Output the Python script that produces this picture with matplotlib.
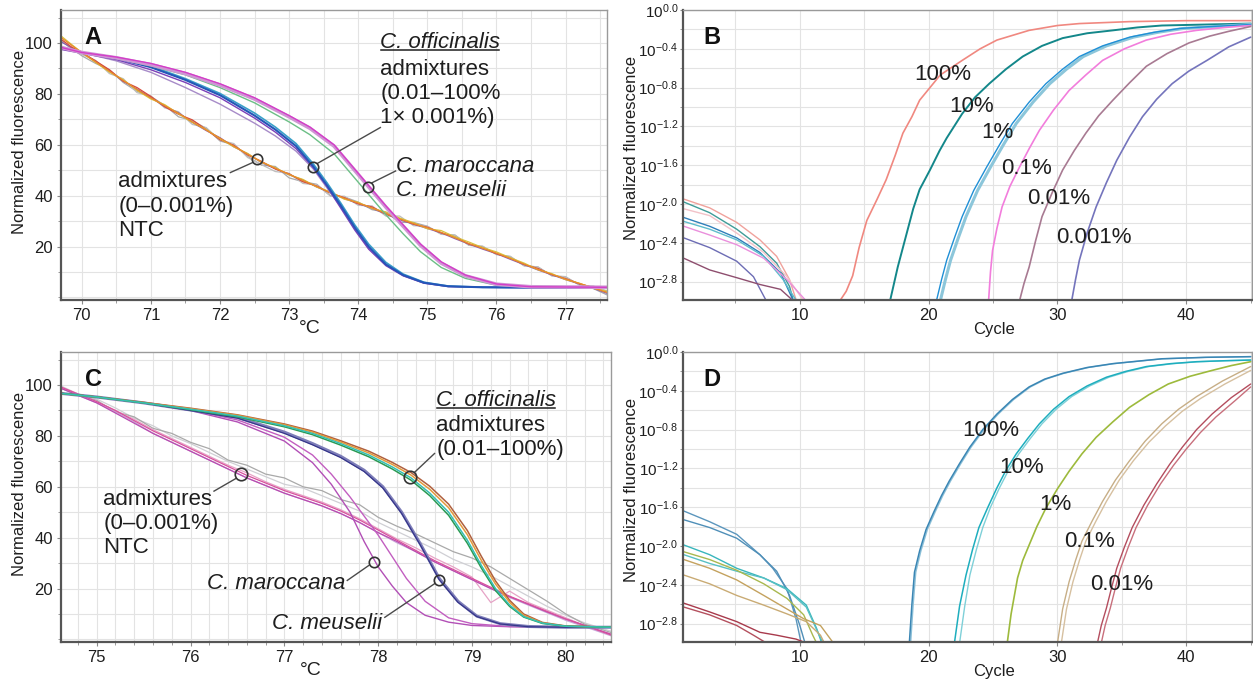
"""Melting curves (A, C) and amplification curves (B, D) - four-panel figure.

Writes ``out.png``.
"""

import matplotlib

matplotlib.use("Agg")
import matplotlib.pyplot as plt
import numpy as np
from matplotlib.lines import Line2D
from matplotlib.ticker import FixedLocator, MultipleLocator, NullFormatter

plt.rcParams["font.family"] = ["Liberation Sans", "DejaVu Sans"]
plt.rcParams["mathtext.default"] = "regular"

# ---------------------------------------------------------------- panel A
A_T_OFF = [69.7, 70.0, 70.5, 71.0, 71.5, 72.0, 72.5, 72.8, 73.1, 73.35, 73.55,
           73.75, 73.95, 74.15, 74.4, 74.65, 74.95, 75.3, 75.8, 76.5, 77.6]
A_OFF_1 = [98.3, 96.3, 94.0, 90.5, 85.5, 79.5, 71.5, 66.0, 59.5, 51.5, 44.0,
           36.0, 27.5, 20.0, 13.0, 8.8, 5.8, 4.4, 4.0, 3.9, 3.9]
A_OFF_2 = [97.5, 96.0, 93.5, 89.5, 84.5, 78.5, 70.5, 65.0, 58.5, 51.0, 43.5,
           35.0, 26.5, 19.0, 12.5, 8.5, 5.6, 4.3, 4.0, 3.9, 3.9]
A_OFF_3 = [98.0, 96.3, 93.0, 88.5, 82.5, 76.0, 68.5, 63.5, 57.5, 50.5, 43.0,
           35.5, 27.0, 19.5, 12.8, 8.6, 5.7, 4.3, 4.0, 3.9, 3.9]
A_OFF_4 = [98.3, 96.3, 94.2, 91.0, 86.0, 80.2, 72.5, 67.0, 60.5, 52.5, 45.0,
           37.0, 28.5, 21.0, 13.8, 9.2, 6.0, 4.5, 4.0, 3.9, 3.9]

A_T_MAR = [69.7, 70.0, 70.5, 71.0, 71.5, 72.0, 72.5, 73.0, 73.3, 73.65, 73.9,
           74.15, 74.4, 74.65, 74.9, 75.2, 75.55, 76.0, 76.5, 77.6]
A_MAR_1 = [98.3, 96.3, 94.2, 91.5, 88.0, 83.5, 78.0, 71.0, 66.5, 59.5, 51.5,
           43.5, 35.5, 28.0, 20.5, 13.5, 8.5, 5.2, 4.2, 4.0]
A_MAR_2 = [98.3, 96.3, 94.5, 92.0, 88.5, 84.0, 78.5, 71.5, 67.0, 60.0, 52.0,
           44.0, 36.0, 28.5, 21.0, 14.0, 8.8, 5.3, 4.2, 4.0]
A_MAR_3 = [98.3, 96.3, 94.0, 91.0, 87.5, 82.5, 76.5, 69.0, 64.0, 56.5, 48.5,
           40.5, 32.5, 25.0, 18.0, 11.8, 7.5, 4.8, 4.1, 4.0]

A_T_LOW = [69.7, 69.85, 70.0, 70.2, 70.4, 70.6, 70.8, 71.0, 71.2, 71.4, 71.6,
           71.8, 72.0, 72.2, 72.4, 72.6, 72.8, 73.0, 73.2, 73.4, 73.6, 73.8,
           74.0, 74.2, 74.4, 74.6, 74.8, 75.0, 75.2, 75.4, 75.6, 75.8, 76.0,
           76.2, 76.4, 76.6, 76.8, 77.0, 77.2, 77.4, 77.6]
A_LOW_1 = [102.2, 99.2, 96.3, 92.6, 88.9, 85.3, 81.7, 78.4, 75.4, 72.4, 69.0,
           65.8, 62.6, 59.5, 56.3, 53.3, 50.8, 48.4, 46.0, 43.6, 41.1, 39.0,
           37.1, 35.2, 33.0, 30.8, 29.0, 27.4, 25.6, 23.4, 21.2, 19.3, 17.4,
           15.3, 13.1, 11.0, 9.1, 7.2, 5.5, 3.8, 1.9]
A_LOW_2 = [101.0, 98.0, 95.0, 92.0, 89.5, 84.5, 81.0, 79.0, 75.5, 71.0, 69.5,
           66.5, 61.5, 60.0, 55.5, 52.0, 51.5, 47.0, 45.5, 44.5, 40.0, 39.5,
           37.5, 34.5, 33.5, 29.5, 29.5, 28.0, 25.0, 24.5, 20.5, 20.0, 17.0,
           16.0, 12.5, 12.0, 8.5, 8.0, 5.0, 3.5, 1.0]
A_LOW_3 = [101.5, 98.5, 96.3, 93.0, 89.5, 85.0, 82.5, 79.0, 75.0, 72.0, 69.8,
           66.0, 62.0, 59.8, 56.0, 53.5, 50.5, 48.6, 45.5, 43.8, 41.0, 39.2,
           36.8, 35.6, 32.8, 31.0, 28.8, 27.6, 25.4, 23.8, 21.0, 19.6, 17.2,
           15.5, 13.0, 11.4, 9.0, 7.4, 5.4, 3.9, 2.1]
A_LOW_4 = [102.8, 99.5, 96.3, 92.4, 88.6, 85.6, 81.4, 78.0, 75.8, 72.2, 68.8,
           66.0, 62.4, 59.2, 56.6, 53.1, 51.0, 48.2, 46.4, 43.4, 41.5, 38.6,
           37.4, 35.0, 33.6, 31.2, 29.4, 27.0, 26.3, 23.8, 21.8, 19.6, 17.9,
           15.6, 13.5, 10.9, 9.4, 7.0, 5.6, 3.6, 2.4]
A_LOW_5 = [100.5, 98.2, 96.3, 92.8, 89.2, 85.0, 81.9, 78.6, 75.0, 72.6, 68.8,
           65.6, 62.8, 59.2, 56.5, 53.0, 50.6, 48.2, 46.2, 43.4, 41.2, 38.8,
           36.9, 35.0, 32.8, 30.5, 28.8, 27.1, 25.4, 23.1, 21.0, 19.0, 17.2,
           15.0, 12.9, 10.8, 8.9, 7.0, 5.3, 3.6, 1.6]
A_LOW_6 = [101.5, 97.5, 95.5, 93.2, 88.0, 86.0, 80.5, 79.2, 74.5, 73.0, 68.0,
           66.8, 61.8, 60.5, 55.0, 52.2, 49.5, 48.8, 44.8, 44.2, 39.8, 39.8,
           36.2, 36.0, 32.0, 32.0, 28.2, 28.0, 24.8, 24.5, 20.6, 20.2, 16.8,
           16.2, 12.4, 12.0, 8.6, 8.2, 4.8, 4.5, 2.6]

# annotation anchors (circle, leader start, leader end) for panel A
A_CIRCLES_X = [72.53, 73.35, 74.14]
A_CIRCLES_Y = [54.3, 51.4, 43.6]
A_LEAD_X = [(72.47, 72.15), (73.41, 74.32), (74.20, 74.54)]
A_LEAD_Y = [(53.0, 49.1), (52.7, 66.8), (45.1, 49.7)]

# ---------------------------------------------------------------- panel C
C_T_OFF = [74.6, 75.0, 75.5, 76.0, 76.5, 77.0, 77.3, 77.6, 77.9, 78.15, 78.35,
           78.55, 78.75, 78.95, 79.1, 79.25, 79.4, 79.55, 79.75, 80.0, 80.5]
C_OFF_1 = [96.8, 95.3, 93.0, 90.5, 87.8, 84.0, 81.0, 77.0, 72.5, 67.8, 63.5,
           57.5, 50.0, 39.0, 29.0, 20.0, 13.5, 9.0, 6.4, 5.2, 4.8]
C_OFF_2 = [96.8, 95.3, 93.0, 90.3, 87.5, 83.6, 80.5, 76.4, 71.8, 67.0, 62.6,
           56.5, 48.8, 37.8, 28.0, 19.2, 13.0, 8.8, 6.3, 5.2, 4.8]
C_OFF_3 = [96.8, 95.3, 93.1, 90.7, 88.1, 84.4, 81.5, 77.6, 73.3, 68.8, 64.6,
           59.0, 51.8, 41.2, 31.0, 21.8, 14.6, 9.5, 6.5, 5.2, 4.8]
C_OFF_4 = [96.8, 95.3, 93.2, 90.9, 88.3, 84.7, 81.9, 78.1, 74.0, 69.6, 65.6,
           60.2, 53.2, 42.8, 32.6, 23.0, 15.4, 10.0, 6.7, 5.3, 4.8]

C_T_MEU = [74.6, 75.0, 75.5, 76.0, 76.5, 77.0, 77.3, 77.6, 77.85, 78.05, 78.25,
           78.45, 78.65, 78.85, 79.05, 79.3, 79.6, 80.0, 80.5]
C_MEU_1 = [96.8, 95.3, 93.0, 90.2, 87.3, 81.5, 77.0, 72.0, 66.5, 60.0, 50.0,
           37.5, 24.0, 15.0, 9.2, 6.2, 5.1, 4.8, 4.8]
C_MEU_2 = [96.8, 95.3, 93.0, 90.0, 87.0, 81.0, 76.5, 71.5, 66.0, 59.5, 49.5,
           37.0, 23.5, 14.6, 9.0, 6.1, 5.0, 4.8, 4.8]

C_T_MAR = [74.6, 75.0, 75.5, 76.0, 76.5, 77.0, 77.3, 77.5, 77.7, 77.85, 78.0,
           78.15, 78.3, 78.5, 78.75, 79.0, 79.4, 80.0]
C_MAR_1 = [96.8, 95.3, 93.0, 90.0, 85.5, 78.0, 69.5, 61.0, 50.0, 38.5, 28.5,
           21.0, 14.5, 9.5, 6.8, 5.5, 5.0, 4.8]
C_MAR_2 = [96.8, 95.3, 93.0, 90.2, 86.3, 79.5, 72.5, 65.0, 56.0, 48.5, 41.0,
           32.5, 24.0, 15.0, 8.5, 6.2, 5.1, 4.8]

C_T_LOW = [74.6, 74.8, 75.0, 75.2, 75.4, 75.6, 75.8, 76.0, 76.2, 76.4, 76.6,
           76.8, 77.0, 77.2, 77.4, 77.6, 77.8, 78.0, 78.2, 78.4, 78.6, 78.8,
           79.0, 79.2, 79.4, 79.6, 79.8, 80.0, 80.2, 80.5]
C_LOW_1 = [99.5, 96.5, 93.5, 90.0, 86.0, 82.0, 78.5, 75.0, 71.5, 68.0, 64.5,
           61.5, 58.5, 56.0, 53.5, 50.5, 47.0, 43.0, 39.0, 35.0, 31.0, 27.5,
           24.0, 20.5, 17.0, 14.0, 11.0, 8.0, 5.5, 1.5]
C_LOW_2 = [99.0, 96.0, 94.0, 89.5, 87.5, 83.0, 81.0, 77.5, 75.0, 70.5, 68.5,
           65.0, 63.5, 60.0, 58.5, 55.0, 53.0, 48.0, 44.5, 41.5, 38.0, 34.5,
           32.0, 28.5, 24.0, 19.5, 15.0, 10.0, 6.0, 2.5]
C_LOW_3 = [99.5, 96.0, 93.0, 89.5, 85.5, 81.0, 77.5, 74.0, 70.5, 67.0, 63.5,
           60.5, 57.5, 55.0, 52.5, 49.5, 46.0, 42.0, 38.0, 34.5, 30.5, 27.0,
           23.5, 20.0, 16.5, 13.5, 10.5, 7.5, 5.0, 1.2]
C_LOW_4 = [99.0, 96.0, 93.0, 89.0, 85.0, 81.0, 77.5, 74.0, 70.5, 67.0, 63.5,
           60.5, 57.5, 55.0, 52.5, 49.5, 46.0, 42.0, 38.5, 34.5, 30.5, 27.0,
           23.5, 20.0, 16.8, 13.8, 10.8, 8.0, 5.5, 1.8]
C_LOW_5 = [99.5, 96.5, 93.5, 90.0, 86.5, 82.5, 79.0, 75.5, 72.0, 68.5, 65.5,
           62.0, 59.0, 56.5, 54.0, 51.0, 47.5, 43.5, 39.5, 36.0, 32.0, 28.5,
           24.5, 14.5, 19.0, 14.5, 11.5, 8.5, 5.5, 2.0]
C_LOW_6 = [100.0, 96.5, 94.5, 91.0, 87.0, 84.0, 80.0, 77.0, 73.5, 70.0, 67.0,
           64.0, 61.0, 59.5, 56.5, 53.5, 50.5, 46.0, 42.5, 39.0, 35.5, 31.5,
           28.5, 25.0, 21.0, 17.0, 13.0, 9.5, 6.5, 3.0]

C_CIRCLES_X = [76.54, 78.34, 77.95, 78.65]
C_CIRCLES_Y = [64.9, 64.0, 30.4, 23.4]
C_CIRCLE_SIZE = [9, 9, 7.5, 7.5]
C_LEAD_X = [(76.48, 76.25), (78.39, 78.60), (77.90, 77.67), (78.60, 78.07)]
C_LEAD_Y = [(63.2, 58.3), (65.8, 73.1), (29.1, 23.2), (21.9, 8.7)]

# ---------------------------------------------------------------- panel B
# cycle numbers and log10 of normalized fluorescence
B_100_C = [13.1, 13.6, 14.1, 14.6, 15.2, 16.0, 16.7, 17.4, 18.0, 18.7, 19.3,
           20.1, 20.9, 22.6, 24.0, 25.3, 27.8, 30.0, 31.7, 35.6, 40.0, 45.0]
B_100_L = [-3.0, -2.90, -2.74, -2.45, -2.17, -1.95, -1.75, -1.50, -1.27, -1.10,
           -0.93, -0.80, -0.67, -0.52, -0.40, -0.31, -0.21, -0.16, -0.14, -0.12,
           -0.11, -0.11]
B_10_C = [17.0, 17.6, 18.3, 18.8, 19.3, 20.1, 20.85, 21.4, 22.6, 23.6, 24.7,
          26.0, 27.3, 28.8, 30.4, 32.3, 34.3, 36.2, 38.1, 41.5, 45.0]
B_10_L = [-3.0, -2.65, -2.30, -2.05, -1.85, -1.65, -1.45, -1.32, -1.07, -0.90,
          -0.76, -0.61, -0.48, -0.37, -0.29, -0.24, -0.21, -0.18, -0.16, -0.15,
          -0.14]
B_1_C = [20.6, 21.0, 21.4, 22.0, 22.6, 23.5, 24.5, 25.5, 26.5, 27.8, 29.1,
         30.4, 31.7, 33.5, 35.6, 37.5, 39.5, 42.0, 45.0]
B_1B_C = [20.9, 21.3, 21.7, 22.3, 22.9, 23.8, 24.8, 25.8, 26.8, 28.1, 29.4,
          30.7, 32.0, 33.8, 35.9, 37.8, 39.8, 42.3, 45.0]
B_1_L = [-3.0, -2.78, -2.58, -2.35, -2.13, -1.86, -1.62, -1.39, -1.17, -0.95,
         -0.76, -0.61, -0.48, -0.37, -0.28, -0.23, -0.19, -0.17, -0.15]
B_01_C = [24.65, 24.8, 24.96, 25.3, 25.7, 26.3, 27.05, 27.8, 28.6, 29.7, 30.9,
          32.2, 33.5, 35.2, 36.9, 38.8, 40.8, 43.0, 45.0]
B_01_L = [-3.0, -2.70, -2.48, -2.25, -2.03, -1.82, -1.62, -1.43, -1.24, -1.03,
          -0.83, -0.67, -0.52, -0.40, -0.31, -0.25, -0.21, -0.18, -0.16]
B_001_C = [27.05, 27.4, 27.8, 28.3, 28.8, 29.6, 30.4, 31.3, 32.2, 33.2, 34.3,
           35.6, 36.9, 38.5, 40.2, 41.8, 43.3, 45.0]
B_001_L = [-3.0, -2.82, -2.65, -2.38, -2.13, -1.88, -1.65, -1.45, -1.27, -1.09,
           -0.93, -0.75, -0.58, -0.45, -0.34, -0.27, -0.22, -0.17]
B_0001_C = [31.1, 31.4, 31.7, 32.3, 33.0, 33.8, 34.6, 35.6, 36.6, 37.7, 38.9,
            40.2, 41.6, 43.3, 45.0]
B_0001_L = [-3.0, -2.78, -2.58, -2.30, -2.03, -1.78, -1.55, -1.31, -1.10, -0.92,
            -0.76, -0.63, -0.52, -0.38, -0.28]

# early-cycle background curves in B
B_BG1_C = [1.0, 3.0, 5.1, 6.9, 8.2, 9.2, 9.74]
B_BG1_L = [-1.95, -2.04, -2.19, -2.37, -2.54, -2.78, -3.0]
B_BG2_C = [1.0, 3.0, 5.1, 6.9, 8.2, 9.2, 9.5]
B_BG2_L = [-1.98, -2.09, -2.26, -2.44, -2.61, -2.85, -3.0]
B_BG3_C = [1.0, 3.0, 5.1, 7.2, 9.0, 10.3]
B_BG3_L = [-2.05, -2.12, -2.30, -2.50, -2.75, -3.0]
B_BG4_C = [1.0, 3.0, 5.1, 6.9, 8.5, 9.5]
B_BG4_L = [-2.14, -2.23, -2.35, -2.50, -2.71, -3.0]
B_BG5_C = [1.0, 3.0, 5.1, 7.2, 8.7, 9.74]
B_BG5_L = [-2.18, -2.26, -2.37, -2.54, -2.78, -3.0]
B_BG6_C = [1.0, 3.0, 5.1, 7.2, 9.0, 10.5]
B_BG6_L = [-2.23, -2.32, -2.42, -2.56, -2.78, -3.0]
B_BG7_C = [1.0, 3.0, 5.1, 6.4, 7.4]
B_BG7_L = [-2.35, -2.45, -2.59, -2.75, -3.0]
B_BG8_C = [1.0, 3.0, 5.1, 6.9, 8.5, 9.5]
B_BG8_L = [-2.56, -2.68, -2.76, -2.83, -2.88, -3.0]

B_LABELS = ["100%", "10%", "1%", "0.1%", "0.01%", "0.001%"]
B_LABEL_C = [21.1, 23.3, 25.35, 27.6, 30.1, 32.8]
B_LABEL_L = [-0.66, -0.99, -1.26, -1.63, -1.94, -2.35]

# ---------------------------------------------------------------- panel D
D_100_C = [18.5, 18.7, 18.9, 19.3, 19.8, 20.4, 21.0, 21.6, 22.4, 23.2, 24.2,
           25.3, 26.5, 27.8, 29.0, 30.4, 32.3, 34.3, 38.1, 41.5, 45.0]
D_100B_C = [18.6, 18.8, 19.0, 19.4, 19.9, 20.5, 21.1, 21.7, 22.5, 23.3, 24.3,
            25.4, 26.6, 27.9, 29.1, 30.5, 32.4, 34.4, 38.2, 41.6, 45.0]
D_100_L = [-3.0, -2.60, -2.27, -2.05, -1.83, -1.65, -1.48, -1.33, -1.15, -0.98,
           -0.80, -0.64, -0.49, -0.36, -0.28, -0.22, -0.16, -0.12, -0.07, -0.055,
           -0.048]
D_10_C = [22.0, 22.4, 22.9, 23.4, 23.9, 24.6, 25.3, 26.0, 26.8, 27.7, 28.6,
          29.7, 30.9, 32.3, 33.8, 35.3, 36.9, 38.8, 40.8, 43.0, 45.0]
D_10B_C = [22.4, 22.8, 23.2, 23.7, 24.2, 24.8, 25.5, 26.2, 27.0, 27.9, 28.8,
           29.9, 31.1, 32.5, 34.0, 35.5, 37.1, 39.0, 41.0, 43.1, 45.0]
D_10_L = [-3.0, -2.62, -2.30, -2.04, -1.81, -1.60, -1.40, -1.22, -1.05, -0.89,
          -0.74, -0.59, -0.46, -0.35, -0.26, -0.20, -0.15, -0.12, -0.10, -0.09,
          -0.083]
D_1_C = [26.1, 26.4, 26.9, 27.3, 27.8, 28.4, 29.1, 30.0, 30.9, 31.9, 33.0,
         34.3, 35.6, 37.1, 38.6, 40.3, 42.0, 43.5, 45.0]
D_1_L = [-3.0, -2.70, -2.33, -2.15, -1.99, -1.80, -1.61, -1.41, -1.23, -1.05,
         -0.88, -0.72, -0.57, -0.44, -0.33, -0.25, -0.19, -0.14, -0.10]
D_01_C = [30.0, 30.4, 30.9, 31.4, 31.9, 32.7, 33.5, 34.5, 35.6, 36.8, 38.1,
          39.4, 40.8, 42.8, 45.0]
D_01_L = [-3.0, -2.65, -2.37, -2.15, -1.95, -1.74, -1.54, -1.32, -1.12, -0.92,
          -0.74, -0.59, -0.46, -0.30, -0.15]
D_01B_C = [30.3, 30.7, 31.2, 31.7, 32.2, 33.0, 33.8, 34.8, 35.9, 37.1, 38.4,
           39.7, 41.1, 43.0, 45.0]
D_01B_L = [-3.0, -2.65, -2.37, -2.15, -1.95, -1.74, -1.54, -1.32, -1.12, -0.93,
           -0.76, -0.61, -0.48, -0.33, -0.19]
D_001_C = [33.1, 33.4, 33.8, 34.2, 34.6, 35.2, 35.8, 36.7, 37.7, 38.7, 39.7,
           40.8, 42.0, 43.5, 45.0]
D_001B_C = [33.4, 33.7, 34.1, 34.5, 34.9, 35.5, 36.1, 37.0, 38.0, 39.0, 40.0,
            41.1, 42.3, 43.8, 45.0]
D_001_L = [-3.0, -2.82, -2.64, -2.43, -2.23, -2.01, -1.81, -1.58, -1.36, -1.16,
           -0.98, -0.80, -0.64, -0.47, -0.33]
D_001B_L = [-3.0, -2.82, -2.64, -2.43, -2.23, -2.01, -1.81, -1.58, -1.36, -1.17,
            -1.00, -0.83, -0.67, -0.50, -0.36]

D_BG1_C = [1.0, 3.0, 5.1, 6.9, 7.9, 9.0, 9.7, 10.1]
D_BG1_L = [-1.64, -1.75, -1.88, -2.09, -2.23, -2.44, -2.75, -3.0]
D_BG2_C = [1.0, 3.0, 5.1, 6.9, 8.2, 9.2, 10.0, 10.4]
D_BG2_L = [-1.73, -1.81, -1.92, -2.09, -2.26, -2.51, -2.82, -3.0]
D_BG3_C = [1.0, 3.0, 5.1, 7.2, 9.0, 10.5, 11.3, 11.7]
D_BG3_L = [-1.99, -2.09, -2.23, -2.33, -2.44, -2.61, -2.85, -3.0]
D_BG4_C = [1.0, 3.0, 5.1, 7.2, 9.0, 10.5, 11.4, 11.8]
D_BG4_L = [-2.09, -2.18, -2.26, -2.33, -2.45, -2.63, -2.89, -3.0]
D_BG5_C = [1.0, 3.0, 5.1, 7.2, 9.0, 10.3, 11.0, 11.3]
D_BG5_L = [-2.06, -2.14, -2.25, -2.39, -2.54, -2.71, -2.92, -3.0]
D_BG6_C = [1.0, 3.0, 5.1, 7.2, 9.0, 10.3, 11.6, 12.6]
D_BG6_L = [-2.14, -2.23, -2.35, -2.51, -2.65, -2.75, -2.82, -3.0]
D_BG7_C = [1.0, 3.0, 5.1, 7.2, 9.0, 10.5, 11.6, 11.9]
D_BG7_L = [-2.30, -2.39, -2.51, -2.61, -2.70, -2.78, -2.92, -3.0]
D_BG8_C = [1.0, 3.0, 5.1, 6.9, 8.2, 9.7, 10.5]
D_BG8_L = [-2.59, -2.68, -2.78, -2.89, -2.92, -2.96, -3.0]
D_BG9_C = [1.0, 3.0, 5.1, 6.4, 7.4]
D_BG9_L = [-2.63, -2.71, -2.82, -2.92, -3.0]

D_LABELS = ["100%", "10%", "1%", "0.1%", "0.01%"]
D_LABEL_C = [24.8, 27.2, 29.8, 32.5, 35.0]
D_LABEL_L = [-0.81, -1.19, -1.57, -1.95, -2.40]

LOG_TICKS = [0.0, -0.4, -0.8, -1.2, -1.6, -2.0, -2.4, -2.8]
LOG_MINOR = [-0.2, -0.6, -1.0, -1.4, -1.8, -2.2, -2.6]

TXT = "#1e1e1e"
FS = 16


def style(ax):
    for s in ("top", "right"):
        ax.spines[s].set_color("#9a9a9a")
        ax.spines[s].set_linewidth(1.0)
    for s in ("left", "bottom"):
        ax.spines[s].set_color("#555555")
        ax.spines[s].set_linewidth(1.6)
    ax.grid(which="both", color="#e3e3e3", lw=0.8)
    ax.set_axisbelow(True)
    ax.tick_params(which="both", direction="out", color="#8a8a8a",
                   labelsize=12, labelcolor=TXT)
    ax.tick_params(which="major", length=3, pad=3)
    ax.tick_params(which="minor", length=2)


def melt_axes(ax, xlim, minor):
    style(ax)
    ax.set_xlim(*xlim)
    ax.set_ylim(-1.0, 113.0)
    ax.yaxis.set_major_locator(FixedLocator([20, 40, 60, 80, 100]))
    ax.yaxis.set_minor_locator(MultipleLocator(10))
    ax.xaxis.set_major_locator(MultipleLocator(1))
    ax.xaxis.set_minor_locator(MultipleLocator(minor))
    ax.set_ylabel("Normalized fluorescence", fontsize=12, color=TXT)
    ax.yaxis.set_label_coords(-0.062, 0.545)
    ax.set_xlabel("°C", fontsize=14, color=TXT)
    ax.xaxis.set_label_coords(0.455, -0.068)


def amp_axes(ax):
    style(ax)
    ax.set_yscale("log")
    ax.set_xlim(0.93, 45.1)
    ax.set_ylim(10 ** -2.99, 1.0)
    ax.xaxis.set_major_locator(FixedLocator([10, 20, 30, 40]))
    ax.xaxis.set_minor_locator(MultipleLocator(5))
    ax.yaxis.set_major_locator(FixedLocator(np.power(10.0, LOG_TICKS)))
    ax.yaxis.set_minor_locator(FixedLocator(np.power(10.0, LOG_MINOR)))
    ax.yaxis.set_minor_formatter(NullFormatter())
    ax.set_yticklabels([r"$10^{%.1f}$" % t if t != 0 else r"$10^{0.0}$"
                        for t in LOG_TICKS])
    ax.tick_params(axis="y", which="major", labelsize=11, length=2, pad=1.5)
    ax.set_ylabel("Normalized fluorescence", fontsize=12, color=TXT)
    ax.yaxis.set_label_coords(-0.078, 0.524)
    ax.set_xlabel("Cycle", fontsize=12, color=TXT)
    ax.xaxis.set_label_coords(0.546, -0.075)


def logline(ax, c, l, color, lw=1.0):
    ax.plot(c, np.power(10.0, l), color=color, lw=lw, solid_capstyle="round")


def letter(ax, s):
    ax.text(0.059 if s in "AC" else 0.051, 0.905, s, transform=ax.transAxes,
            fontsize=17, fontweight="bold", color="#111111",
            ha="center", va="center")


def leaders(ax, cx, cy, lx, ly, sizes):
    for (x0, x1), (y0, y1) in zip(lx, ly):
        ax.plot([x0, x1], [y0, y1], color="#4a4a4a", lw=1.0, zorder=6)
    for x, y, s in zip(cx, cy, sizes):
        ax.plot(x, y, "o", ms=s, mfc="none", mec="#333333", mew=1.2, zorder=7)


fig = plt.figure(figsize=(12.53, 6.84), dpi=100)
ax_a = fig.add_axes([0.0487, 0.5614, 0.4358, 0.424])
ax_b = fig.add_axes([0.5451, 0.5614, 0.4541, 0.424])
ax_c = fig.add_axes([0.0487, 0.0614, 0.4389, 0.424])
ax_d = fig.add_axes([0.5451, 0.0614, 0.4541, 0.424])

# ---- A
melt_axes(ax_a, (69.7, 77.6), 0.5)
for ys, col in [(A_LOW_2, "#a8a8a8"), (A_LOW_6, "#bdbdbd"), (A_LOW_5, "#8a5fb0"),
                (A_LOW_3, "#d84a3a"), (A_LOW_4, "#d9c23c"), (A_LOW_1, "#e88a2c")]:
    ax_a.plot(A_T_LOW, ys, color=col, lw=0.9)
for ys, col, lw in [(A_OFF_3, "#a78bc8", 1.0), (A_OFF_2, "#7a3fb8", 1.0),
                    (A_OFF_4, "#3aa0c8", 1.2), (A_OFF_1, "#2456b8", 1.5)]:
    ax_a.plot(A_T_OFF, ys, color=col, lw=lw)
for ys, col, lw in [(A_MAR_3, "#6cbf86", 1.0), (A_MAR_1, "#cf95d4", 2.6),
                    (A_MAR_2, "#d43cc8", 1.0)]:
    ax_a.plot(A_T_MAR, ys, color=col, lw=lw)
leaders(ax_a, A_CIRCLES_X, A_CIRCLES_Y, A_LEAD_X, A_LEAD_Y, [7.5, 7.5, 7.5])
ax_a.text(70.53, 35.9, "admixtures\n(0–0.001%)\nNTC", fontsize=FS, color=TXT,
          va="center", ha="left")
off_a = ax_a.text(74.32, 100.3, "C. officinalis", fontsize=FS, color=TXT,
                  style="italic", va="center", ha="left")
ax_a.text(74.32, 80.2, "admixtures\n(0.01–100%\n1× 0.001%)", fontsize=FS,
          color=TXT, va="center", ha="left")
ax_a.text(74.54, 46.8, "C. maroccana\nC. meuselii", fontsize=FS, color=TXT,
          style="italic", va="center", ha="left")
letter(ax_a, "A")

# ---- C
melt_axes(ax_c, (74.62, 80.48), 0.2)
for ys, col in [(C_LOW_6, "#cfcfd4"), (C_LOW_2, "#a9a9a9"), (C_LOW_3, "#c9a6d8"),
                (C_LOW_5, "#e6a3c6"), (C_LOW_4, "#b94ab0"), (C_LOW_1, "#d8509c")]:
    ax_c.plot(C_T_LOW, ys, color=col, lw=0.9)
for ys, col in [(C_MAR_1, "#b24fb6"), (C_MAR_2, "#c25ec0")]:
    ax_c.plot(C_T_MAR, ys, color=col, lw=1.0)
ax_c.plot(C_T_MEU, C_MEU_1, color="#7d7db8", lw=2.2)
ax_c.plot(C_T_MEU, C_MEU_2, color="#35358a", lw=0.9)
for ys, col in [(C_OFF_4, "#b0603e"), (C_OFF_3, "#e39a3c"), (C_OFF_2, "#2a9a52"),
                (C_OFF_1, "#36bfb3")]:
    ax_c.plot(C_T_OFF, ys, color=col, lw=1.1)
leaders(ax_c, C_CIRCLES_X, C_CIRCLES_Y, C_LEAD_X, C_LEAD_Y, C_CIRCLE_SIZE)
ax_c.text(75.07, 45.5, "admixtures\n(0–0.001%)\nNTC", fontsize=FS, color=TXT,
          va="center", ha="left")
off_c = ax_c.text(78.62, 94.1, "C. officinalis", fontsize=FS, color=TXT,
                  style="italic", va="center", ha="left")
ax_c.text(78.62, 79.3, "admixtures\n(0.01–100%)", fontsize=FS, color=TXT,
          va="center", ha="left")
ax_c.text(77.65, 21.9, "C. maroccana", fontsize=FS, color=TXT, style="italic",
          va="center", ha="right")
ax_c.text(78.04, 6.1, "C. meuselii", fontsize=FS, color=TXT, style="italic",
          va="center", ha="right")
letter(ax_c, "C")

# ---- B
amp_axes(ax_b)
for c, l, col in [(B_BG1_C, B_BG1_L, "#f0a29c"), (B_BG2_C, B_BG2_L, "#3f9c98"),
                  (B_BG3_C, B_BG3_L, "#f2c2c8"), (B_BG4_C, B_BG4_L, "#2f7fba"),
                  (B_BG5_C, B_BG5_L, "#5fbccc"), (B_BG6_C, B_BG6_L, "#ea8fdc"),
                  (B_BG7_C, B_BG7_L, "#6c6cb4"), (B_BG8_C, B_BG8_L, "#8e4e6e")]:
    logline(ax_b, c, l, col)
logline(ax_b, B_100_C, B_100_L, "#f08880", 1.2)
logline(ax_b, B_10_C, B_10_L, "#13878a", 1.4)
logline(ax_b, B_1B_C, B_1_L, "#8cc6da", 2.2)
logline(ax_b, B_1_C, B_1_L, "#1f8fd6", 1.0)
logline(ax_b, B_01_C, B_01_L, "#f27ddc", 1.2)
logline(ax_b, B_001_C, B_001_L, "#a87a92", 1.2)
logline(ax_b, B_0001_C, B_0001_L, "#7474bc", 1.2)
for s, c, l in zip(B_LABELS, B_LABEL_C, B_LABEL_L):
    ax_b.text(c, 10 ** l, s, fontsize=FS, color=TXT, ha="center", va="center")
letter(ax_b, "B")

# ---- D
amp_axes(ax_d)
for c, l, col in [(D_BG1_C, D_BG1_L, "#5b96bd"), (D_BG2_C, D_BG2_L, "#4f8fb8"),
                  (D_BG3_C, D_BG3_L, "#38b6bc"), (D_BG4_C, D_BG4_L, "#57c0c4"),
                  (D_BG5_C, D_BG5_L, "#a9b84e"), (D_BG6_C, D_BG6_L, "#c4a25e"),
                  (D_BG7_C, D_BG7_L, "#c9ab74"), (D_BG8_C, D_BG8_L, "#a83a4c"),
                  (D_BG9_C, D_BG9_L, "#b4505e")]:
    logline(ax_d, c, l, col)
logline(ax_d, D_100B_C, D_100_L, "#8cc0d8", 1.0)
logline(ax_d, D_100_C, D_100_L, "#3a86b4", 1.1)
logline(ax_d, D_10B_C, D_10_L, "#7fd0d8", 1.0)
logline(ax_d, D_10_C, D_10_L, "#1eaebe", 1.1)
logline(ax_d, D_1_C, D_1_L, "#9dba3c", 1.2)
logline(ax_d, D_01_C, D_01_L, "#c7ae86", 1.0)
logline(ax_d, D_01B_C, D_01B_L, "#d6c0a0", 1.0)
logline(ax_d, D_001_C, D_001_L, "#b44d5e", 1.0)
logline(ax_d, D_001B_C, D_001B_L, "#c86f7c", 1.0)
for s, c, l in zip(D_LABELS, D_LABEL_C, D_LABEL_L):
    ax_d.text(c, 10 ** l, s, fontsize=FS, color=TXT, ha="center", va="center")
letter(ax_d, "D")

# underline the species name in the annotation blocks
fig.canvas.draw()
inv = fig.transFigure.inverted()
for t in (off_a, off_c):
    bb = t.get_window_extent()
    (x0, y0), (x1, _) = inv.transform([(bb.x0 + 1, bb.y0 + 3), (bb.x1 - 1, bb.y0 + 3)])
    fig.add_artist(Line2D([x0, x1], [y0, y0], color=TXT, lw=1.1,
                          transform=fig.transFigure))

fig.savefig("out.png", dpi=100)
